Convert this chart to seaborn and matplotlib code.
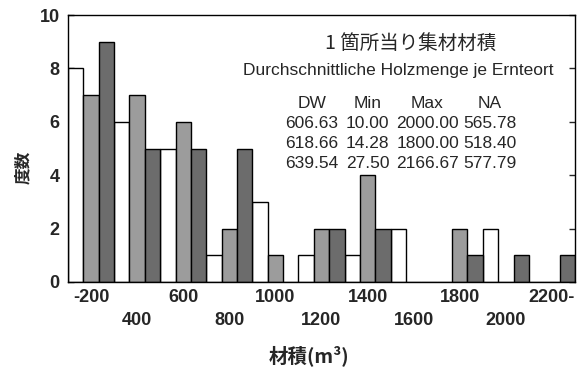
import matplotlib
matplotlib.use("Agg")
import matplotlib.pyplot as plt
import seaborn as sns
import pandas as pd

bins = ["-200", "400", "600", "800", "1000", "1200", "1400", "1600", "1800", "2000", "2200-"]
series = ["DW1", "DW2", "DW3"]
white_counts = [8, 6, 5, 1, 3, 1, 1, 2, 0, 2, 0]
light_counts = [7, 7, 6, 2, 1, 2, 4, 0, 2, 0, 0]
dark_counts = [9, 5, 5, 5, 0, 2, 2, 0, 1, 1, 1]
yticks = [0, 2, 4, 6, 8, 10]

title = "1 箇所当り集材材積"
subtitle = "Durchschnittliche Holzmenge je Ernteort"
table_header = ["DW", "Min", "Max", "NA"]
table_rows = [
    ["606.63", "10.00", "2000.00", "565.78"],
    ["618.66", "14.28", "1800.00", "518.40"],
    ["639.54", "27.50", "2166.67", "577.79"],
]

rows = []
for name, vals in zip(series, [white_counts, light_counts, dark_counts]):
    for b, v in zip(bins, vals):
        rows.append({"bin": b, "count": v, "series": name})
df = pd.DataFrame(rows)

sns.set_style("ticks")
plt.rcParams["font.family"] = ["Liberation Sans", "Noto Sans CJK JP", "DejaVu Sans"]

W, H = 577, 374
fig = plt.figure(figsize=(W / 100, H / 100), dpi=100)
ax = fig.add_axes([68 / W, 1 - 282 / H, (575 - 68) / W, (282 - 15) / H])

palette = {"DW1": "#ffffff", "DW2": "#9c9c9c", "DW3": "#6c6c6c"}
sns.barplot(data=df, x="bin", y="count", hue="series", order=bins, hue_order=series,
            palette=palette, width=1.0, dodge=True, edgecolor="black", linewidth=1.0,
            errorbar=None, legend=False, ax=ax, saturation=1)

ax.set_xlim(-0.5, len(bins) - 0.5)
ax.set_ylim(0, 10)
ax.set_yticks(yticks)
ax.set_yticklabels([str(t) for t in yticks], fontsize=13, fontweight="bold")
ax.set_xticks(range(len(bins)))
ax.set_xticklabels([b if i % 2 == 0 else "\n" + b for i, b in enumerate(bins)],
                   fontsize=13, fontweight="bold", linespacing=1.45)
ax.tick_params(axis="x", length=0, pad=5)
ax.tick_params(axis="y", direction="in", length=4, width=1, left=True, right=True, pad=6)
for s in ax.spines.values():
    s.set_visible(True)
    s.set_linewidth(1.0)
    s.set_color("black")
ax.set_xlabel("")
ax.set_ylabel("")

fig.text(309 / W, 1 - 356 / H, "材積(m³)", ha="center", va="center", fontsize=14,
         fontweight="bold", family=["Noto Sans CJK JP", "DejaVu Sans"])
fig.text(23 / W, 1 - 167 / H, "度数", ha="center", va="center", rotation=90, fontsize=12,
         fontweight="bold", family=["Noto Sans CJK JP", "DejaVu Sans"])

fig.text(411 / W, 1 - 43 / H, title, ha="center", va="center", fontsize=14,
         family=["Noto Sans CJK JP", "DejaVu Sans"])
fig.text(398 / W, 1 - 70 / H, subtitle, ha="center", va="center", fontsize=12.5)
col_x = [312, 367.5, 427.5, 489.5]
row_y = [103.5, 124, 144, 164]
for cx, txt in zip(col_x, table_header):
    fig.text(cx / W, 1 - row_y[0] / H, txt, ha="center", va="center", fontsize=12.5)
for ry, row in zip(row_y[1:], table_rows):
    for cx, txt in zip(col_x, row):
        fig.text(cx / W, 1 - ry / H, txt, ha="center", va="center", fontsize=12.5)

fig.savefig("out.png", dpi=100)
